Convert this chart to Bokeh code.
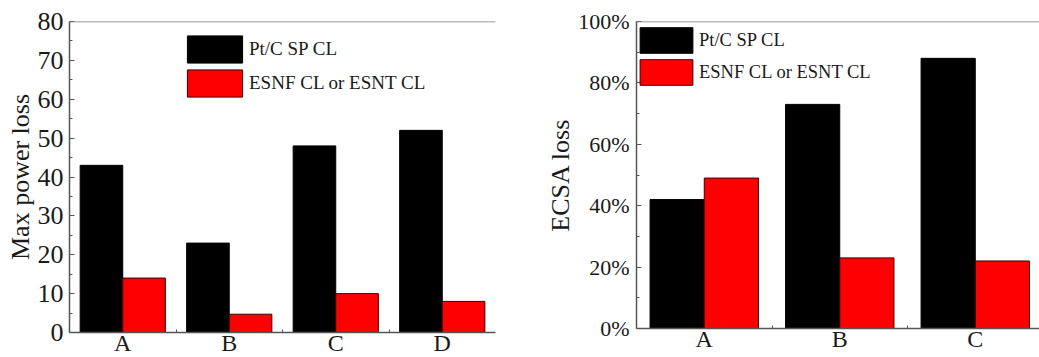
from bokeh.plotting import figure
from bokeh.layouts import row
from bokeh.models import (Range1d, FixedTicker, NumeralTickFormatter, Span,
                          Legend, LegendItem)
from bokeh.embed import file_html
from bokeh.resources import INLINE

# ---- data -------------------------------------------------------------
power_categories = ["A", "B", "C", "D"]
power_ptc = [43, 23, 48, 52]          # Pt/C SP CL
power_esn = [14, 4.7, 10, 8]          # ESNF CL or ESNT CL

ecsa_categories = ["A", "B", "C"]
ecsa_ptc = [0.42, 0.73, 0.88]
ecsa_esn = [0.49, 0.23, 0.22]

series_names = ["Pt/C SP CL", "ESNF CL or ESNT CL"]
series_colors = ["#000000", "#ff0000"]

FONT = "Liberation Serif"
AXIS_COLOR = "#555555"
TEXT_COLOR = "#1a1a1a"


def style_axes(p, tick_size, label_size, label_standoff):
    for ax in (p.xaxis[0], p.yaxis[0]):
        ax.axis_line_color = AXIS_COLOR
        ax.axis_line_width = 1.5
        ax.major_label_text_font = FONT
        ax.major_label_text_color = TEXT_COLOR
        ax.axis_label_text_font = FONT
        ax.axis_label_text_font_style = "normal"
        ax.axis_label_text_color = TEXT_COLOR
        ax.axis_label_text_font_size = label_size
        ax.major_tick_line_color = AXIS_COLOR
        ax.minor_tick_line_color = AXIS_COLOR
        ax.major_tick_out = 0
        ax.minor_tick_out = 0
    p.yaxis.major_label_text_font_size = tick_size
    p.yaxis.major_tick_in = 5
    p.yaxis.minor_tick_in = 3
    p.yaxis.major_label_standoff = 6
    p.yaxis.axis_label_standoff = label_standoff
    p.xaxis.major_label_text_font_size = "24px"
    p.xaxis.major_tick_line_color = None
    p.xaxis.minor_tick_in = 3
    p.xaxis.major_label_standoff = -3
    p.grid.visible = False
    p.outline_line_color = None


def grouped_bars(p, cats, a_vals, b_vals):
    xa = [i + 0.3 for i in range(len(cats))]
    xb = [i + 0.7 for i in range(len(cats))]
    ra = p.vbar(x=xa, top=a_vals, width=0.4, fill_color=series_colors[0],
                line_color="#000000", line_width=1)
    rb = p.vbar(x=xb, top=b_vals, width=0.4, fill_color=series_colors[1],
                line_color="#3a0000", line_width=1)
    return ra, rb


def add_legend(p, ra, rb, loc, gw, gh, spacing, standoff, font_size):
    leg = Legend(items=[LegendItem(label=series_names[0], renderers=[ra]),
                        LegendItem(label=series_names[1], renderers=[rb])],
                 location=loc, glyph_width=gw, glyph_height=gh,
                 label_height=gh, spacing=spacing, padding=0, margin=0,
                 label_standoff=standoff, label_text_font=FONT,
                 label_text_font_size=font_size,
                 label_text_color=TEXT_COLOR,
                 border_line_alpha=0, background_fill_alpha=0)
    p.add_layout(leg)


# ---- left panel: max power loss ----------------------------------------
p1 = figure(width=520, height=361, output_backend="svg", toolbar_location=None,
            x_range=Range1d(0, len(power_categories)), y_range=Range1d(0, 80),
            min_border_left=69, min_border_right=25,
            min_border_top=21, min_border_bottom=26)
ra1, rb1 = grouped_bars(p1, power_categories, power_ptc, power_esn)
p1.xaxis.ticker = FixedTicker(ticks=[i + 0.5 for i in range(len(power_categories))],
                              minor_ticks=list(range(1, len(power_categories))))
p1.xaxis.major_label_overrides = {i + 0.5: c for i, c in enumerate(power_categories)}
p1.yaxis.ticker = FixedTicker(ticks=list(range(0, 81, 10)),
                              minor_ticks=list(range(5, 80, 10)))
p1.yaxis.axis_label = "Max power loss"
style_axes(p1, "26px", "26px", 0)
p1.add_layout(Span(location=80, dimension="width", line_color="#777777", line_width=1.5))
add_legend(p1, ra1, rb1, (111, 232), 69, 34, -3, 0, "19px")

# ---- right panel: ECSA loss -------------------------------------------
p2 = figure(width=519, height=357, output_backend="svg", toolbar_location=None,
            x_range=Range1d(0, 2.974), y_range=Range1d(0, 1),
            min_border_left=116, min_border_right=0,
            min_border_top=21, min_border_bottom=29)
ra2, rb2 = grouped_bars(p2, ecsa_categories, ecsa_ptc, ecsa_esn)
p2.xaxis.ticker = FixedTicker(ticks=[i + 0.5 for i in range(len(ecsa_categories))],
                              minor_ticks=list(range(1, len(ecsa_categories))))
p2.xaxis.major_label_overrides = {i + 0.5: c for i, c in enumerate(ecsa_categories)}
p2.yaxis.ticker = FixedTicker(ticks=[0, 0.2, 0.4, 0.6, 0.8, 1.0],
                              minor_ticks=[0.1, 0.3, 0.5, 0.7, 0.9])
p2.yaxis.formatter = NumeralTickFormatter(format="0%")
p2.yaxis.axis_label = "ECSA loss"
style_axes(p2, "22px", "26px", 0)
p2.yaxis.major_label_standoff = 7
p2.add_layout(Span(location=1, dimension="width", line_color="#777777", line_width=1.5))
add_legend(p2, ra2, rb2, (-3, 240), 66, 32, -2, 0, "18.5px")

layout = row(p1, p2)
open("out.html", "w").write(file_html(layout, INLINE))
